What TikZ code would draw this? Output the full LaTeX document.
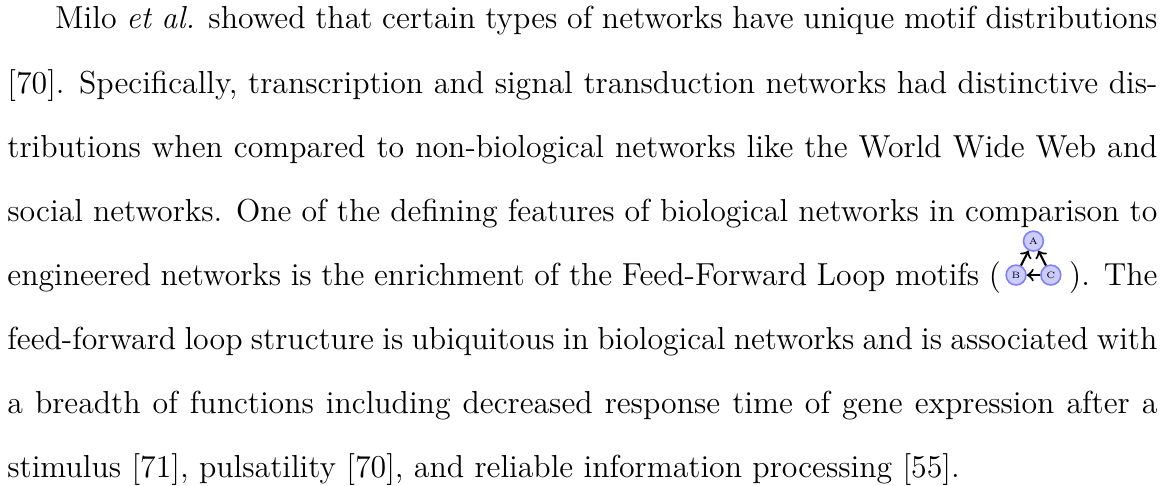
\documentclass[tikz,border=0pt]{standalone}
\usepackage{tikz}
\usetikzlibrary{calc,positioning}
\usepackage{xcolor}
\definecolor{motifFill}{RGB}{204,204,255}
\definecolor{motifEdge}{RGB}{128,128,255}
\newcommand{\bodyfont}{\fontsize{12}{14.5}\selectfont}
\newcommand{\motiffont}{\fontsize{3.5}{4}\selectfont}
\newlength{\colwidth}\setlength{\colwidth}{433.6pt}

\begin{document}
\begin{tikzpicture}[
    textline/.style={anchor=base west, inner sep=0pt, outer sep=0pt, font=\bodyfont},
    motif/.style={circle, draw=motifEdge, fill=motifFill, line width=0.6pt, minimum size=7.5pt, inner sep=0pt, font=\motiffont},
    motifarrow/.style={->, thick, black},
    x=1pt, y=1pt
  ]
  \useasboundingbox (0,0) rectangle (438.5,-182.9);
  % paragraph, one justified line per node
  \node[textline] (l1) at (2.8,-10.9) {\hbox to \colwidth{\hspace{18pt}Milo \emph{et al.} showed that certain types of networks have unique motif distributions}};
  \node[textline] (l2) at (2.8,-35.1) {\hbox to \colwidth{[70]. Specifically, transcription and signal transduction networks had distinctive dis-}};
  \node[textline] (l3) at (2.8,-59.3) {\hbox to \colwidth{tributions when compared to non-biological networks like the World Wide Web and}};
  \node[textline] (l4) at (2.8,-83.4) {\hbox to \colwidth{social networks. One of the defining features of biological networks in comparison to}};
  \node[textline] (l5a) at (2.8,-107.6) {\hbox to 374.6pt{engineered networks is the enrichment of the Feed-Forward Loop motifs (}};
  \node[textline, anchor=base east] (l5b) at (436.4,-107.6) {). The};
  \node[textline] (l6) at (2.8,-131.8) {\hbox to \colwidth{feed-forward loop structure is ubiquitous in biological networks and is associated with}};
  \node[textline] (l7) at (2.8,-156.0) {\hbox to \colwidth{a breadth of functions including decreased response time of gene expression after a}};
  \node[textline] (l8) at (2.8,-180.1) {stimulus [71], pulsatility [70], and reliable information processing [55].};

  % inline feed-forward loop
  \node[motif] (mB) at (383.1,-103.7) {B};
  \node[motif, right=5pt of mB] (mC) {C};
  \node[motif] (mA) at ($(mB)!0.5!(mC)+(0,12.8)$) {A};
  \draw[motifarrow] (mB) -- (mA);
  \draw[motifarrow] (mC) -- (mA);
  \draw[motifarrow] (mC) -- (mB);
\end{tikzpicture}
\end{document}
